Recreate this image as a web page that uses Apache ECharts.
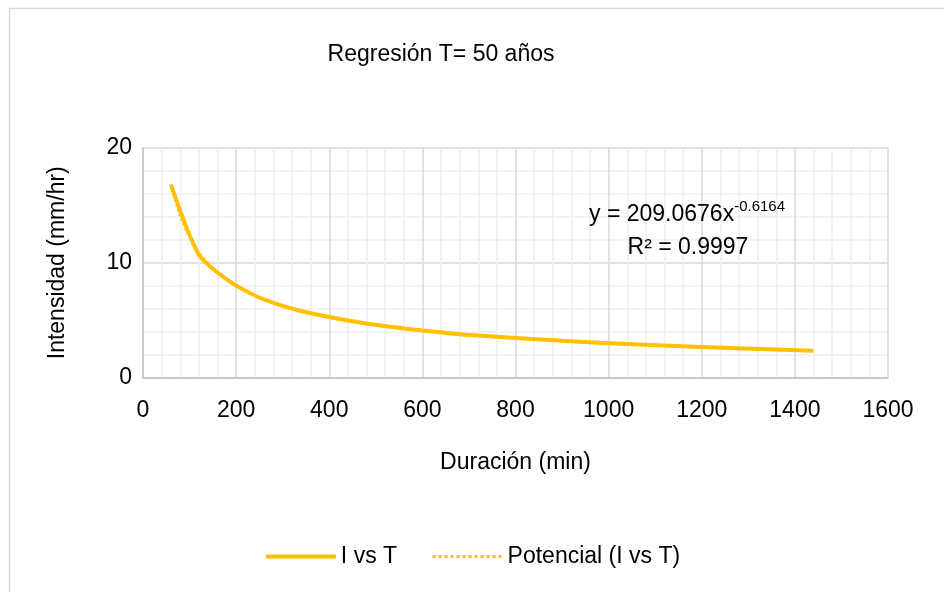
<!DOCTYPE html>
<html>
<head>
<meta charset="utf-8">
<script src="https://cdn.jsdelivr.net/npm/echarts@6/dist/echarts.min.js"></script>
<style>html,body{margin:0;padding:0;background:#fff;}#c{width:944px;height:592px;}</style>
</head>
<body>
<div id="c"></div>
<script>
// Data
const durations = [60, 120, 180, 240, 300, 360, 480, 600, 720, 900, 1080, 1260, 1440];
const intensities = [16.8, 10.7, 8.55, 7.15, 6.25, 5.6, 4.7, 4.1, 3.65, 3.2, 2.85, 2.58, 2.33];
// Trendline (Potencial) values
const trendDurations = [60, 80, 100, 120, 150, 180, 240, 300, 360, 480, 600, 720, 900, 1080, 1260, 1440];
const trendValues = [16.75, 14.04, 12.23, 10.93, 9.53, 8.52, 7.13, 6.21, 5.55, 4.65, 4.05, 3.62, 3.16, 2.82, 2.57, 2.36];
const xTicks = [0, 200, 400, 600, 800, 1000, 1200, 1400, 1600];
const yTicks = [0, 10, 20];
const seriesNames = ['I vs T', 'Potencial (I vs T)'];
const titleText = 'Regresión T= 50 años';
const xName = 'Duración (min)';
const yName = 'Intensidad (mm/hr)';

const gold = '#FFC000';
const font = 'Liberation Sans, Arial, sans-serif';
const fs = 23;

const chart = echarts.init(document.getElementById('c'), null, {renderer: 'canvas'});
chart.setOption({
  backgroundColor: '#fff',
  animation: false,
  grid: {left: 143, right: 56, top: 148, bottom: 214.5, containLabel: false},
  xAxis: {
    type: 'value', min: xTicks[0], max: xTicks[xTicks.length - 1], interval: 200,
    name: xName, nameLocation: 'middle', nameGap: 74,
    nameTextStyle: {fontFamily: font, fontSize: fs, color: '#000'},
    axisLine: {show: true, lineStyle: {color: '#bfbfbf', width: 1.5}},
    axisTick: {show: false},
    axisLabel: {fontFamily: font, fontSize: fs, color: '#000', margin: 22,
      formatter: v => String(v)},
    splitLine: {show: true, lineStyle: {color: '#d9d9d9', width: 1.5}},
    minorTick: {show: false, splitNumber: 5},
    minorSplitLine: {show: true, lineStyle: {color: '#f0f0f0', width: 1.5}}
  },
  yAxis: {
    type: 'value', min: yTicks[0], max: yTicks[yTicks.length - 1], interval: 10,
    name: yName, nameLocation: 'middle', nameGap: 74, nameRotate: 90,
    nameTextStyle: {fontFamily: font, fontSize: fs, color: '#000'},
    axisLine: {show: true, lineStyle: {color: '#bfbfbf', width: 1.5}},
    axisTick: {show: false},
    axisLabel: {fontFamily: font, fontSize: fs, color: '#000', margin: 11,
      formatter: v => String(v)},
    splitLine: {show: true, lineStyle: {color: '#d9d9d9', width: 1.5}},
    minorTick: {show: false, splitNumber: 5},
    minorSplitLine: {show: true, lineStyle: {color: '#f0f0f0', width: 1.5}}
  },
  legend: {
    top: 540, left: 'center', itemWidth: 70, itemHeight: 12, itemGap: 34,
    itemStyle: {opacity: 0},
    textStyle: {fontFamily: font, fontSize: fs, color: '#000'},
    data: [
      {name: seriesNames[0], lineStyle: {width: 4, color: gold}},
      {name: seriesNames[1], lineStyle: {width: 3, color: gold, type: [3, 3]}}
    ]
  },
  series: [
    {
      name: seriesNames[0], type: 'line', symbol: 'none', smooth: 0.25,
      data: durations.map((d, i) => [d, intensities[i]]),
      lineStyle: {color: gold, width: 4}, itemStyle: {color: gold}, z: 3
    },
    {
      name: seriesNames[1], type: 'line', symbol: 'none', smooth: 0.3,
      data: trendDurations.map((d, i) => [d, trendValues[i]]),
      lineStyle: {color: gold, width: 2.5, type: [2, 3]}, itemStyle: {color: gold}, z: 2
    }
  ],
  graphic: [
    {type: 'rect', left: 7, top: 6, shape: {width: 960, height: 600},
     style: {fill: 'none', stroke: '#d9d9d9', lineWidth: 1.5}, silent: true, z: -1},
    {type: 'text', x: 441, y: 43, z: 10,
     style: {text: titleText, fontFamily: font, fontSize: fs, fill: '#000', align: 'center'}},
    {type: 'text', x: 687, y: 199, z: 10,
     style: {
       text: '{a|y = 209.0676x}{s|-0.6164}', fill: '#000', align: 'center',
       rich: {
         a: {fontFamily: font, fontSize: fs, fill: '#000', verticalAlign: 'bottom'},
         s: {fontFamily: font, fontSize: 15, fill: '#000', verticalAlign: 'top', padding: [0, 0, 12, 0]}
       }
     }},
    {type: 'text', x: 688, y: 236, z: 10,
     style: {text: 'R² = 0.9997', fontFamily: font, fontSize: fs, fill: '#000', align: 'center'}}
  ]
});
</script>
</body>
</html>
